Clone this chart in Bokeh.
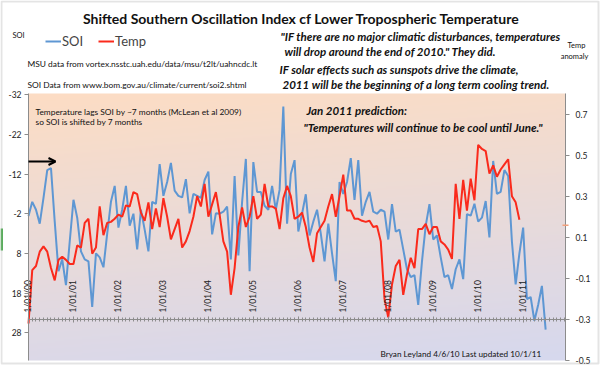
import numpy as np
from bokeh.plotting import figure
from bokeh.models import (Range1d, LinearAxis, FixedTicker, Label, Arrow, OpenHead,
                          Legend, LegendItem, BoxAnnotation)
from bokeh.embed import file_html
from bokeh.resources import INLINE

# ---------------- data (monthly, index 0 = Jan 2000) ----------------
soi = [-1.4, -5.0, -3.0, 0.5, -6.0, -13.0, -13.5, 0.0, 12.5, 9.5,
       16.0, 5.0, -5.5, -1.0, 7.5, 9.5, 10.0, 21.5, 8.0, 9.0,
       11.5, 3.0, -5.0, -9.0, 1.5, -3.0, -9.0, 1.0, -2.0, 7.0,
       -3.0, 2.0, 7.5, -5.0, -4.5, -14.5, -6.5, -10.0, -14.8, -7.8,
       -6.5, -6.1, -10.7, -2.1, -7.0, -6.5, -6.0, -10.5, -12.6, 3.2,
       -2.1, -2.0, -2.5, -3.8, 9.5, -11.5, 8.5, -5.0, -15.8, 12.5,
       -15.0, -7.5, -7.5, -4.0, -3.0, -9.0, -3.0, -8.0, -29.0, 0.5,
       -12.0, -15.5, 2.5, -2.0, -6.9, 3.5, 0.0, -3.0, 3.0, 10.0,
       0.5, 8.0, 15.0, -10.0, -7.0, -10.0, -16.0, -5.5, -15.5, -1.5,
       -5.0, -7.5, -2.5, -2.0, -3.0, -2.5, 4.5, -4.4, 2.5, 2.0,
       7.0, 12.0, 14.0, 13.5, 21.0, 10.0, 1.0, -4.4, 4.5, 3.5,
       9.0, 14.0, 13.5, 17.0, 12.0, 9.5, 14.5, -1.9, -1.5, -4.5,
       0.0, -1.0, -5.2, 4.0, -15.3, -7.0, -7.5, -13.0, -11.5, 5.0,
       15.8, 8.0, 1.5, 19.5, 19.0, 25.0, 21.0, 16.2, 27.2]

temp = [-0.32, -0.06, -0.04, 0.03, 0.056, 0.03, -0.05, -0.11, -0.01, 0.005,
        -0.01, -0.03, -0.03, 0.06, 0.05, 0.17, 0.19, 0.02, 0.05, 0.25,
        0.11, 0.17, 0.175, 0.19, 0.21, 0.20, 0.255, 0.25, 0.32, 0.31,
        0.22, 0.18, 0.27, 0.14, 0.24, 0.15, 0.29, 0.20, 0.09, 0.14,
        0.19, 0.05, 0.08, 0.13, 0.20, 0.30, 0.25, 0.36, 0.20, 0.26,
        0.32, 0.21, 0.08, 0.03, -0.18, -0.05, 0.15, 0.245, 0.15, 0.20,
        0.30, 0.19, 0.21, 0.36, 0.25, 0.25, 0.24, 0.14, 0.29, 0.35,
        0.30, 0.19, 0.20, 0.22, 0.15, 0.05, -0.02, 0.12, 0.15, 0.18,
        0.25, 0.31, 0.20, 0.30, 0.405, 0.23, 0.23, 0.19, 0.19, 0.18,
        0.175, 0.18, 0.15, 0.155, 0.08, -0.20, -0.29, -0.13, -0.04, -0.01,
        -0.18, -0.08, 0.0, -0.05, 0.14, 0.14, 0.165, 0.115, 0.15, 0.15,
        0.08, 0.065, 0.04, -0.005, 0.36, 0.19, 0.38, 0.23, 0.385, 0.28,
        0.55, 0.53, 0.52, 0.41, 0.45, 0.395, 0.43, 0.455, 0.48, 0.30,
        0.27, 0.185]

year_ticks = [0, 12, 24, 36, 48, 60, 72, 84, 96, 108, 120, 132]
year_labels = ["1/01/00", "1/01/01", "1/01/02", "1/01/03", "1/01/04", "1/01/05",
               "1/01/06", "1/01/07", "1/01/08", "1/01/09", "1/01/10", "1/01/11"]
soi_ticks = [-32, -22, -12, -2, 8, 18, 28]
soi_labels = ["-32", "-22", "-12", "-2", "8", "18", "28"]
temp_ticks = [-0.5, -0.3, -0.1, 0.1, 0.3, 0.5, 0.7]
temp_labels = ["-0.5", "-0.3", "-0.1", "0.1", "0.3", "0.5", "0.7"]

months_soi = list(range(len(soi)))
months_temp = list(range(len(temp)))
all_months = list(range(0, 144))

# plot-area extents in data units
X0, X1 = 0.0, 143.3          # months
SOI_TOP, SOI_BOT = -32.3, 35.0
T_BOT, T_TOP = -0.5, 0.8

# canvas layout (pixels in the 600x366 figure)
W, H = 600, 366
PL, PR, PT, PB = 28, 565, 93, 360   # plot-area box
sx = (PR - PL) / (X1 - X0)
sy_soi = (PB - PT) / (SOI_BOT - SOI_TOP)
sy_t = (PB - PT) / (T_TOP - T_BOT)
x_range = Range1d(X0 - PL / sx, X1 + (W - PR) / sx)
y_range = Range1d(SOI_BOT + (H - PB) / sy_soi, SOI_TOP - PT / sy_soi)
t_range = Range1d(T_BOT - (H - PB) / sy_t, T_TOP + PT / sy_t)

FONT = "Lato"
AXIS_GRAY = "#8C8C8C"

p = figure(width=W, height=H, output_backend="svg", toolbar_location=None,
           x_range=x_range, y_range=y_range,
           min_border=0, min_border_left=0, min_border_right=0,
           min_border_top=0, min_border_bottom=0,
           x_axis_location=None, y_axis_location=None)
p.extra_y_ranges = {"temp": t_range}
p.xgrid.visible = False
p.ygrid.visible = False
p.outline_line_color = None
p.background_fill_color = "white"
p.border_fill_color = "white"

# background gradient of the plot area
GH, GW = 200, 60
top_c = np.array([253, 221, 196], dtype=float)
bot_c = np.array([214, 216, 238], dtype=float)
tv = np.linspace(0.0, 1.0, GH)[:, None]          # 0 bottom -> 1 top
hv = np.linspace(0.0, 1.0, GW)[None, :]          # 0 left -> 1 right
mix = np.clip(tv * 0.85 + (1 - hv) * 0.15, 0, 1)
img = np.empty((GH, GW), dtype=np.uint32)
view = img.view(dtype=np.uint8).reshape((GH, GW, 4))
for k in range(3):
    view[:, :, k] = (bot_c[k] + (top_c[k] - bot_c[k]) * mix).astype(np.uint8)
view[:, :, 3] = 255
p.image_rgba(image=[img], x=X0, y=T_BOT, dw=X1 - X0, dh=T_TOP - T_BOT, y_range_name="temp")

soi_r = p.line(months_soi, soi, line_color="#5E97D3", line_width=2)
temp_r = p.line(months_temp, temp, line_color="#FA2A1C", line_width=2, y_range_name="temp")

# axes (fixed inside the canvas)
left_ax = LinearAxis(fixed_location=X0, bounds=(SOI_TOP, SOI_BOT),
                     ticker=FixedTicker(ticks=soi_ticks),
                     major_label_overrides=dict(zip(soi_ticks, soi_labels)))
right_ax = LinearAxis(y_range_name="temp", fixed_location=X1, bounds=(T_BOT, T_TOP),
                      ticker=FixedTicker(ticks=temp_ticks),
                      major_label_overrides=dict(zip(temp_ticks, temp_labels)))
for ax in (left_ax, right_ax):
    ax.axis_line_color = AXIS_GRAY
    ax.major_tick_line_color = AXIS_GRAY
    ax.major_tick_out = 4
    ax.major_tick_in = 0
    ax.minor_tick_out = 0
    ax.minor_tick_in = 0
    ax.major_label_text_font = FONT
    ax.major_label_text_font_size = "8.5px"
    ax.major_label_text_color = "#222222"
left_ax.major_label_standoff = 3
right_ax.major_label_standoff = 6
p.add_layout(left_ax, "left")
p.add_layout(right_ax, "right")

x_ax = LinearAxis(y_range_name="temp", fixed_location=-0.3, bounds=(X0, X1),
                  ticker=FixedTicker(ticks=year_ticks, minor_ticks=all_months),
                  major_label_overrides=dict(zip(year_ticks, year_labels)),
                  major_label_orientation="vertical")
x_ax.axis_line_color = AXIS_GRAY
x_ax.major_tick_line_color = AXIS_GRAY
x_ax.minor_tick_line_color = AXIS_GRAY
x_ax.major_tick_in = 3
x_ax.major_tick_out = 3
x_ax.minor_tick_in = 2
x_ax.minor_tick_out = 2
x_ax.major_label_standoff = 4
x_ax.major_label_text_font = FONT
x_ax.major_label_text_font_size = "8.5px"
x_ax.major_label_text_color = "#222222"
p.add_layout(x_ax, "above")

# legend (location = left, bottom in canvas pixels from bottom-left)
legend = Legend(items=[LegendItem(label="SOI", renderers=[soi_r]),
                       LegendItem(label="Temp", renderers=[temp_r])],
                orientation="horizontal", location=(45, 317),
                label_text_font=FONT, label_text_font_size="13px",
                glyph_width=16, glyph_height=14, label_height=14, label_standoff=1,
                spacing=15, padding=0, margin=0,
                border_line_color=None, background_fill_alpha=0)
p.add_layout(legend, "center")

# texts (canvas pixels: x from left, y from bottom)
def add_text(txt, x, y, size, style="normal", align="left", color="#111111"):
    p.add_layout(Label(x=x, y=y, x_units="screen", y_units="screen", text=txt,
                       text_font=FONT, text_font_size=size, text_font_style=style,
                       text_align=align, text_baseline="middle", text_color=color))

add_text("Shifted Southern Oscillation Index cf Lower Tropospheric Temperature",
         301, 348, "14px", "bold", "center")
add_text("SOI", 12, 331, "7.5px")
add_text("MSU data from vortex.nsstc.uah.edu/data/msu/t2lt/uahncdc.lt", 27, 303, "8.4px")
add_text("SOI Data from www.bom.gov.au/climate/current/soi2.shtml", 27, 282, "8.4px")
add_text('"IF there are no major climatic disturbances, temperatures', 280, 330, "11.5px", "bold italic")
add_text('will drop around the end of 2010." They did.', 284, 315, "11.5px", "bold italic")
add_text("IF solar effects such as sunspots drive the climate,", 279, 297, "11.5px", "bold italic")
add_text("2011 will be the beginning of a long term cooling trend.", 282, 282, "11.5px", "bold italic")
add_text("Temp", 576, 321, "7.5px", align="center")
add_text("anomaly", 574, 310, "7.5px", align="center")
add_text("Temperature lags SOI by ~7 months (McLean et al 2009)", 35, 254.5, "8.4px")
add_text("so SOI is shifted by 7 months", 35, 244.5, "8.4px")
add_text("Jan 2011 prediction:", 306, 256, "11.5px", "bold italic")
add_text('"Temperatures will continue to be cool until June."', 303, 239, "11.5px", "bold italic")
add_text("Bryan Leyland 4/6/10  Last updated 10/1/11", 380, 13, "8.2px")

p.add_layout(Arrow(end=OpenHead(size=7, line_width=2, line_color="black"),
                   x_start=28, y_start=205, x_end=55, y_end=205,
                   start_units="screen", end_units="screen",
                   line_width=2, line_color="black"))

# small orange mark on the right axis and green mark at left edge
p.add_layout(BoxAnnotation(left=562, right=568, bottom=140.5, top=142,
                           left_units="screen", right_units="screen",
                           bottom_units="screen", top_units="screen",
                           fill_color="#F2A07B", fill_alpha=1, line_color=None))
p.add_layout(BoxAnnotation(left=0, right=2.5, bottom=116, top=138,
                           left_units="screen", right_units="screen",
                           bottom_units="screen", top_units="screen",
                           fill_color="#4CAF50", fill_alpha=1, line_color=None))

# outer chart border
p.add_layout(BoxAnnotation(left=1, right=598, bottom=3, top=365,
                           left_units="screen", right_units="screen",
                           bottom_units="screen", top_units="screen",
                           fill_alpha=0, line_color="#A6A6A6", line_width=2))

open("out.html", "w").write(file_html(p, INLINE))
